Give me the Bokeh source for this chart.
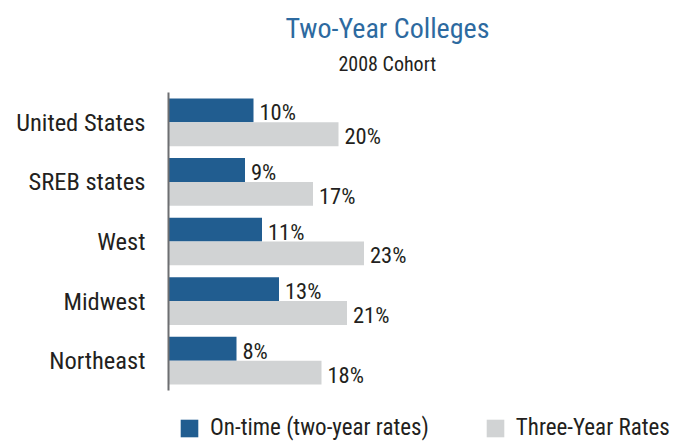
from bokeh.plotting import figure
from bokeh.layouts import column
from bokeh.models import (ColumnDataSource, FactorRange, Range1d, Title, Legend,
                          LegendItem)
from bokeh.transform import dodge
from bokeh.core.properties import value
from bokeh.embed import file_html
from bokeh.resources import INLINE

categories = ["United States", "SREB states", "West", "Midwest", "Northeast"]
on_time = [10, 9, 11, 13, 8]
three_year = [20, 17, 23, 21, 18]
series_names = ["On-time (two-year rates)", "Three-Year Rates"]
title_text = "Two-Year Colleges"
subtitle_text = "2008 Cohort"

FONT = "Roboto Condensed"
BLUE = "#215d90"
GRAY = "#d1d3d4"
TEXT = "#231f20"
TITLE_BLUE = "#2d6aa0"

src = ColumnDataSource(dict(
    cat=categories,
    on=on_time,
    three=three_year,
    on_lbl=[f"{v}%" for v in on_time],
    three_lbl=[f"{v}%" for v in three_year],
))

# ---------------- main chart ----------------
p = figure(width=678, height=400, output_backend="svg", toolbar_location=None,
           y_range=FactorRange(factors=categories[::-1]),
           x_range=Range1d(0, 60),
           min_border_left=168, min_border_right=0, min_border_top=92,
           min_border_bottom=10)

p.hbar(y=dodge("cat", 0.2, range=p.y_range), right="on", left=0, height=0.4,
       source=src, fill_color=BLUE, line_color=None)
p.hbar(y=dodge("cat", -0.2, range=p.y_range), right="three", left=0, height=0.4,
       source=src, fill_color=GRAY, line_color=None)

p.text(x="on", y=dodge("cat", 0.2, range=p.y_range), text="on_lbl", source=src,
       x_offset=6, y_offset=2, text_baseline="middle", text_align="left",
       text_font=value(FONT), text_font_size="22.5px", text_color=TEXT)
p.text(x="three", y=dodge("cat", -0.2, range=p.y_range), text="three_lbl", source=src,
       x_offset=6, y_offset=2, text_baseline="middle", text_align="left",
       text_font=value(FONT), text_font_size="22.5px", text_color=TEXT)

p.xaxis.visible = False
p.xgrid.visible = False
p.ygrid.visible = False
p.outline_line_color = None

ax = p.yaxis[0]
ax.axis_line_color = "#6d6e71"
ax.axis_line_width = 2
ax.major_tick_line_color = None
ax.minor_tick_line_color = None
ax.major_tick_out = 0
ax.major_tick_in = 0
ax.major_label_text_font = FONT
ax.major_label_text_font_size = "24.5px"
ax.major_label_text_color = TEXT
ax.major_label_standoff = 23

# titles (later-added panels sit further from the frame; p.title is outermost)
spacer = Title(text=" ", text_font=FONT, text_font_size="2px", standoff=10)
p.add_layout(spacer, "above")
sub = Title(text=subtitle_text, align="left", offset=170, text_font=FONT,
            text_font_size="20px", text_font_style="normal", text_color=TEXT,
            standoff=6)
p.add_layout(sub, "above")

p.title.text = title_text
p.title.align = "left"
p.title.offset = 117
p.title.text_font = FONT
p.title.text_font_size = "28px"
p.title.text_font_style = "normal"
p.title.text_color = TITLE_BLUE
p.title.standoff = 4

# ---------------- legend strip ----------------
p2 = figure(width=678, height=42, output_backend="svg", toolbar_location=None,
            x_range=Range1d(-100, -50), y_range=Range1d(-100, -50),
            x_axis_location=None, y_axis_location=None,
            min_border=0, min_border_left=0, min_border_right=0,
            min_border_top=0, min_border_bottom=0)
p2.grid.visible = False
p2.outline_line_color = None
# key renderers share the data but lie outside the strip's visible ranges
k_on = p2.hbar(y="on", right="on", left=0, height=0.4, source=src,
               fill_color=BLUE, line_color=None)
k_three = p2.hbar(y="three", right="three", left=0, height=0.4, source=src,
                  fill_color=GRAY, line_color=None)

legend = Legend(items=[LegendItem(label=series_names[0], renderers=[k_on]),
                       LegendItem(label=series_names[1], renderers=[k_three])],
                orientation="horizontal", location=(10, 1), padding=0, margin=0,
                border_line_color=None, background_fill_alpha=0,
                glyph_width=22, glyph_height=22, label_standoff=10, spacing=55,
                label_text_font=FONT, label_text_font_size="23px",
                label_text_color=TEXT)
p2.add_layout(legend, "center")

layout = column(p, p2, spacing=0)
open("out.html", "w").write(file_html(layout, INLINE))
